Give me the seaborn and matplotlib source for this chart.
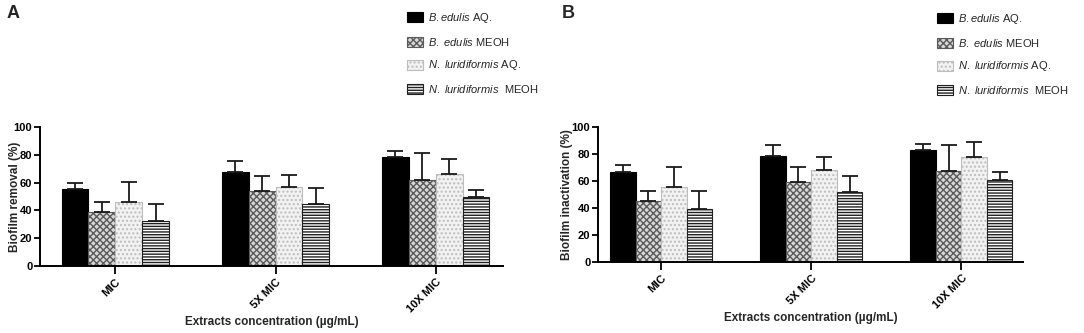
import matplotlib
matplotlib.use('Agg')
import matplotlib.pyplot as plt
import pandas as pd
import seaborn as sns

# ---------------------------
# Data
# ---------------------------
concentrations = ["MIC", "5X MIC", "10X MIC"]
extracts = ["B.edulis AQ.", "B. edulis MEOH", "N. luridiformis AQ.", "N. luridiformis MEOH"]
legend_labels = [
    r"$\it{B.edulis}$ AQ.",
    r"$\it{B.\ edulis}$ MEOH",
    r"$\it{N.\ luridiformis}$ AQ.",
    r"$\it{N.\ luridiformis}$  MEOH",
]

# panel A: biofilm removal, one list per extract (MIC, 5X, 10X)
removal_bedulis_aq = [55.5, 67.4, 78.1]
removal_bedulis_meoh = [38.7, 54.0, 62.0]
removal_nlur_aq = [45.7, 56.7, 66.0]
removal_nlur_meoh = [32.2, 44.8, 49.6]
removal_sd_bedulis_aq = [4.5, 8.3, 4.8]
removal_sd_bedulis_meoh = [7.0, 10.8, 19.0]
removal_sd_nlur_aq = [15.0, 9.0, 10.7]
removal_sd_nlur_meoh = [12.5, 11.0, 5.2]

# panel B: biofilm inactivation
inact_bedulis_aq = [66.7, 78.3, 83.0]
inact_bedulis_meoh = [45.2, 59.3, 67.4]
inact_nlur_aq = [55.6, 68.4, 77.8]
inact_nlur_meoh = [39.5, 51.6, 60.5]
inact_sd_bedulis_aq = [4.9, 8.4, 4.7]
inact_sd_bedulis_meoh = [7.1, 11.3, 19.3]
inact_sd_nlur_aq = [15.0, 9.4, 10.8]
inact_sd_nlur_meoh = [12.8, 12.1, 5.9]


def make_df(means, sds):
    rows = []
    for ext, m_list, s_list in zip(extracts, means, sds):
        for conc, m, s in zip(concentrations, m_list, s_list):
            rows.append({"Concentration": conc, "Extract": ext, "Value": m, "SD": s})
    return pd.DataFrame(rows)


df_a = make_df(
    [removal_bedulis_aq, removal_bedulis_meoh, removal_nlur_aq, removal_nlur_meoh],
    [removal_sd_bedulis_aq, removal_sd_bedulis_meoh, removal_sd_nlur_aq, removal_sd_nlur_meoh],
)
df_b = make_df(
    [inact_bedulis_aq, inact_bedulis_meoh, inact_nlur_aq, inact_nlur_meoh],
    [inact_sd_bedulis_aq, inact_sd_bedulis_meoh, inact_sd_nlur_aq, inact_sd_nlur_meoh],
)

# ---------------------------
# Style
# ---------------------------
sns.set_style("white")
plt.rcParams['font.family'] = ['Liberation Sans', 'DejaVu Sans']
plt.rcParams['mathtext.fontset'] = 'custom'
plt.rcParams['mathtext.rm'] = 'Liberation Sans'
plt.rcParams['mathtext.it'] = 'Liberation Sans:italic'
plt.rcParams['hatch.linewidth'] = 1.0

face = ["black", "#d8d8d8", "#f2f2f2", "white"]
edges = ["black", "#5a5a5a", "#bdbdbd", "#202020"]
hatches = [None, "xxxxx", "....", "------"]

fig = plt.figure(figsize=(10.84, 3.33), dpi=100)
ax_a = fig.add_axes([40 / 1084, 67 / 333, 463 / 1084, 139 / 333])
ax_b = fig.add_axes([598 / 1084, 71 / 333, 425 / 1084, 135 / 333])


def draw_panel(ax, df, width, xlim, ylabel, ylabel_x):
    sns.barplot(data=df, x="Concentration", y="Value", hue="Extract",
                order=concentrations, hue_order=extracts, palette=face,
                width=width, gap=0, errorbar=None, legend=False, ax=ax,
                saturation=1)
    bar_conts = list(ax.containers)
    for i, cont in enumerate(bar_conts):
        sds = df[df["Extract"] == extracts[i]].set_index("Concentration").loc[concentrations, "SD"].values
        xs, ys = [], []
        for p in cont.patches:
            p.set_edgecolor(edges[i])
            p.set_linewidth(0.8)
            if hatches[i]:
                p.set_hatch(hatches[i])
            xs.append(p.get_x() + p.get_width() / 2)
            ys.append(p.get_height())
        ax.errorbar(xs, ys, yerr=[[0] * len(sds), sds], fmt="none",
                    ecolor="#1a1a1a", elinewidth=1.3, capsize=5.5, capthick=1.3, zorder=1)
    ax.set_xlim(*xlim)
    ax.set_ylim(0, 100)
    ax.set_yticks(range(0, 101, 20))
    sns.despine(ax=ax)
    for side in ["left", "bottom"]:
        ax.spines[side].set_linewidth(1.4)
        ax.spines[side].set_color("black")
    ax.tick_params(axis="both", direction="out", length=4, width=1.3, pad=1.5,
                   labelsize=8, colors="black", left=True, bottom=True)
    ax.tick_params(axis="x", length=6, pad=2)
    for lab in ax.get_xticklabels():
        lab.set_rotation(45)
        lab.set_ha("right")
        lab.set_rotation_mode("anchor")
        lab.set_fontweight("bold")
    for lab in ax.get_yticklabels():
        lab.set_fontweight("bold")
    ax.set_xlabel("Extracts concentration (µg/mL)", fontsize=8.5, fontweight="bold", labelpad=1)
    ax.set_ylabel(ylabel, fontsize=8.5, fontweight="bold")
    ax.yaxis.set_label_coords(ylabel_x, 0.5)
    ax.legend(handles=bar_conts, labels=legend_labels, loc="upper left",
              bbox_to_anchor=(0, 0), frameon=False, fontsize=8,
              borderaxespad=0, borderpad=0.2,
              handlelength=1.4, handleheight=1.0, handletextpad=0.5, labelspacing=0.95)


draw_panel(ax_a, df_a, 0.67, (-0.47, 2.42), "Biofilm removal (%)", (21 - 40) / 463)
draw_panel(ax_b, df_b, 0.68, (-0.42, 2.41), "Biofilm inactivation (%)", (573 - 598) / 425)

# legends placed at upper right of each panel (figure coords)
ax_a.get_legend().set_bbox_to_anchor((405 / 1084, 1 - 9 / 333), transform=fig.transFigure)
ax_b.get_legend().set_bbox_to_anchor((935 / 1084, 1 - 10 / 333), transform=fig.transFigure)

fig.text(7 / 1084, 1 - 18 / 333, "A", fontsize=13, fontweight="bold")
fig.text(562 / 1084, 1 - 18 / 333, "B", fontsize=13, fontweight="bold")

fig.savefig("out.png", dpi=100)
